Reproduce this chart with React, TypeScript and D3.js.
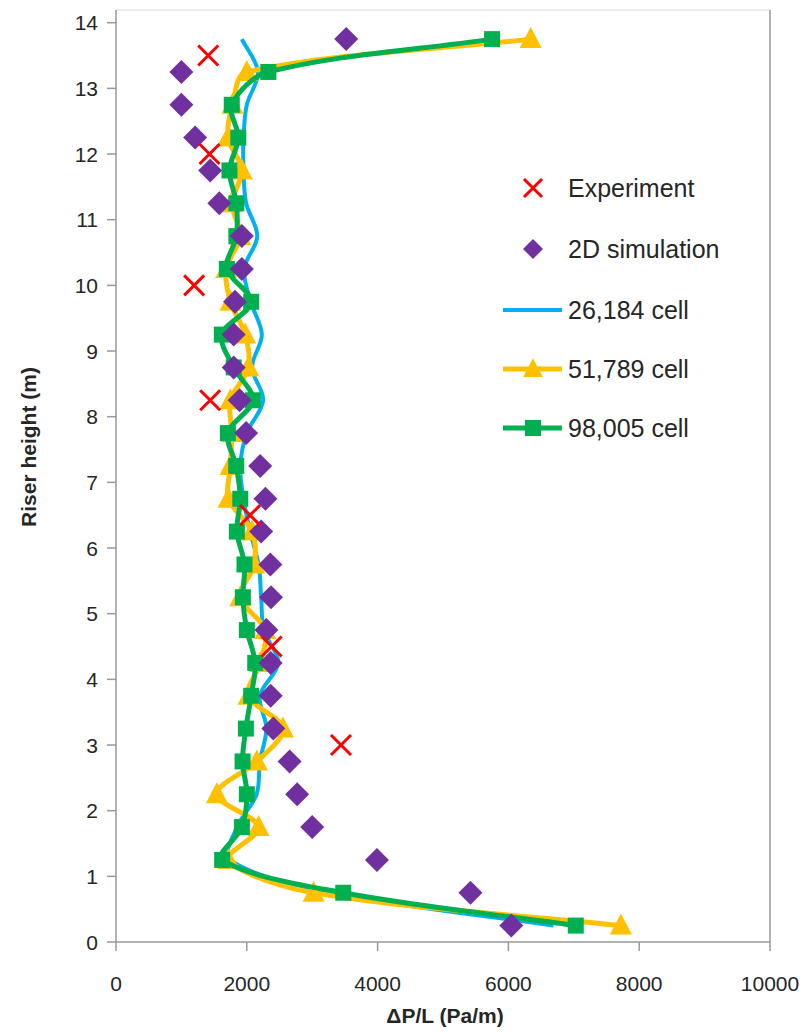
import * as d3 from 'd3';
import React from 'react';

const heights = [13.75, 13.25, 12.75, 12.25, 11.75, 11.25, 10.75, 10.25, 9.75, 9.25, 8.75, 8.25, 7.75, 7.25,
    6.75, 6.25, 5.75, 5.25, 4.75, 4.25, 3.75, 3.25, 2.75, 2.25, 1.75, 1.25, 0.75, 0.25];

const expX = [1410, 1430, 1195, 1440, 2050, 2380, 3440];
const expY = [13.5, 12, 10, 8.25, 6.5, 4.5, 3];

const sim2d = [3520, 1000, 1000, 1210, 1440, 1580, 1925, 1925, 1820, 1800, 1800, 1890, 1990, 2205,
    2285, 2220, 2360, 2370, 2300, 2365, 2365, 2405, 2655, 2770, 3000, 3990, 5420, 6045];

const cell26k = [1925, 2170, 2000, 1950, 1950, 1990, 2160, 1960, 2060, 2230, 2080, 2250, 2000, 1900,
    1950, 2050, 2180, 2220, 2260, 2480, 2200, 2300, 2200, 2150, 1850, 1740, 3300, 6690];

const cell51k = [6340, 2000, 1780, 1715, 1925, 1771, 1900, 1685, 1750, 1975, 2025, 1750, 1770, 1750,
    1720, 2080, 2113, 1900, 2282, 2205, 2026, 2552, 2154, 1542, 2180, 1720, 3022, 7720];

const cell98k = [5750, 2330, 1770, 1870, 1735, 1840, 1840, 1695, 2067, 1618, 1800, 2093, 1710, 1838,
    1900, 1848, 1965, 1940, 2001, 2129, 2067, 1986, 1935, 2001, 1925, 1623, 3475, 7030];

const xTicks = [0, 2000, 4000, 6000, 8000, 10000];
const yTicks = [0, 1, 2, 3, 4, 5, 6, 7, 8, 9, 10, 11, 12, 13, 14];

const legendLabels = ['Experiment', '2D simulation', '26,184 cell', '51,789 cell', '98,005 cell'];

const RED = '#ff0000';
const PURPLE = '#7030a0';
const BLUE = '#00b0f0';
const YELLOW = '#ffc000';
const GREEN = '#00b050';
const AXIS = '#999999';
const FONT = 'Liberation Sans, Arial, sans-serif';

// smoothed line like excel: tangent from neighbours, handle length from segment length
function smoothPath(p: [number, number][]) {
    const path = d3.path();
    const n = p.length;
    const dist = (a: [number, number], b: [number, number]) => Math.hypot(b[0] - a[0], b[1] - a[1]);
    const tan = p.map((pt, i) => {
        const a = p[Math.max(0, i - 1)];
        const b = p[Math.min(n - 1, i + 1)];
        const l = dist(a, pt) + dist(pt, b) || 1;
        return [(b[0] - a[0]) / l, (b[1] - a[1]) / l];
    });
    path.moveTo(p[0][0], p[0][1]);
    for (let i = 0; i < n - 1; i++) {
        const d = dist(p[i], p[i + 1]) / 3;
        path.bezierCurveTo(
            p[i][0] + tan[i][0] * d, p[i][1] + tan[i][1] * d,
            p[i + 1][0] - tan[i + 1][0] * d, p[i + 1][1] - tan[i + 1][1] * d,
            p[i + 1][0], p[i + 1][1]);
    }
    return path.toString();
}

function App() {
    const width = 810;
    const height = 1032;

    const x = d3.scaleLinear().domain([0, 10000]).range([116, 770]);
    const y = d3.scaleLinear().domain([0, 14]).range([942, 22.7]);

    const pts = (vals: number[]) => vals.map((v, i) => [x(v), y(heights[i])] as [number, number]);

    const diamond = (cx: number, cy: number, r: number) =>
        `M${cx},${cy - r}L${cx + r},${cy}L${cx},${cy + r}L${cx - r},${cy}Z`;
    const triangle = (cx: number, cy: number, s: number) =>
        `M${cx},${cy - s * 0.6}L${cx + s * 0.55},${cy + s * 0.45}L${cx - s * 0.55},${cy + s * 0.45}Z`;
    const cross = (cx: number, cy: number, r: number) =>
        `M${cx - r},${cy - r}L${cx + r},${cy + r}M${cx + r},${cy - r}L${cx - r},${cy + r}`;

    const legendY = [188, 249, 310, 369, 428];

    return (
        <svg width={width} height={height} style={{ position: 'absolute', left: 0, top: 0, background: '#fff' }}
            fontFamily={FONT}>
            {/* plot frame */}
            <line x1={116} x2={770} y1={10} y2={10} stroke="#d9d9d9" strokeWidth={1} />
            <line x1={770} x2={770} y1={10} y2={942} stroke={AXIS} strokeWidth={1.5} />

            {/* axes */}
            <line x1={116} x2={116} y1={10} y2={942} stroke={AXIS} strokeWidth={1.5} />
            <line x1={116} x2={770} y1={942} y2={942} stroke={AXIS} strokeWidth={1.5} />
            {yTicks.map(t => (
                <g key={'y' + t}>
                    <line x1={107} x2={116} y1={y(t)} y2={y(t)} stroke={AXIS} strokeWidth={1.5} />
                    <text x={98} y={y(t)} dy="0.36em" textAnchor="end" fontSize={21} fill="#262626">{t}</text>
                </g>
            ))}
            {xTicks.map(t => (
                <g key={'x' + t}>
                    <line x1={x(t)} x2={x(t)} y1={942} y2={951} stroke={AXIS} strokeWidth={1.5} />
                    <text x={x(t)} y={983} dy="0.36em" textAnchor="middle" fontSize={21} fill="#262626">{t}</text>
                </g>
            ))}
            <text x={445} y={1015} dy="0.36em" textAnchor="middle" fontSize={21} fontWeight="bold" fill="#262626">ΔP/L (Pa/m)</text>
            <text transform="translate(28,447) rotate(-90)" dy="0.36em" textAnchor="middle" fontSize={21}
                fontWeight="bold" fill="#262626">Riser height (m)</text>

            {/* series lines */}
            <path d={smoothPath(pts(cell26k))} fill="none" stroke={BLUE} strokeWidth={4} />
            <path d={smoothPath(pts(cell51k))} fill="none" stroke={YELLOW} strokeWidth={5} />
            {cell51k.map((v, i) => (
                <path key={'t' + i} d={triangle(x(v), y(heights[i]), 20)} fill={YELLOW} />
            ))}
            <path d={smoothPath(pts(cell98k))} fill="none" stroke={GREEN} strokeWidth={5} />
            {cell98k.map((v, i) => (
                <rect key={'s' + i} x={x(v) - 8} y={y(heights[i]) - 8} width={16} height={16} fill={GREEN} />
            ))}

            {/* 2D simulation */}
            {sim2d.map((v, i) => (
                <path key={'d' + i} d={diamond(x(v), y(heights[i]), 12)} fill={PURPLE} />
            ))}

            {/* experiment */}
            {expX.map((v, i) => (
                <path key={'e' + i} d={cross(x(v), y(expY[i]), 10)} stroke={RED} strokeWidth={3} fill="none" />
            ))}

            {/* legend */}
            <path d={cross(533, legendY[0], 9)} stroke={RED} strokeWidth={3} fill="none" />
            <path d={diamond(533, legendY[1], 10)} fill={PURPLE} />
            <line x1={503} x2={562} y1={legendY[2]} y2={legendY[2]} stroke={BLUE} strokeWidth={4} />
            <line x1={503} x2={562} y1={legendY[3]} y2={legendY[3]} stroke={YELLOW} strokeWidth={5} />
            <path d={triangle(533, legendY[3], 18)} fill={YELLOW} />
            <line x1={503} x2={562} y1={legendY[4]} y2={legendY[4]} stroke={GREEN} strokeWidth={5} />
            <rect x={525} y={legendY[4] - 8} width={16} height={16} fill={GREEN} />
            {legendLabels.map((l, i) => (
                <text key={l} x={568} y={legendY[i]} dy="0.36em" fontSize={25} fill="#262626">{l}</text>
            ))}
        </svg>
    );
}

export default App;
